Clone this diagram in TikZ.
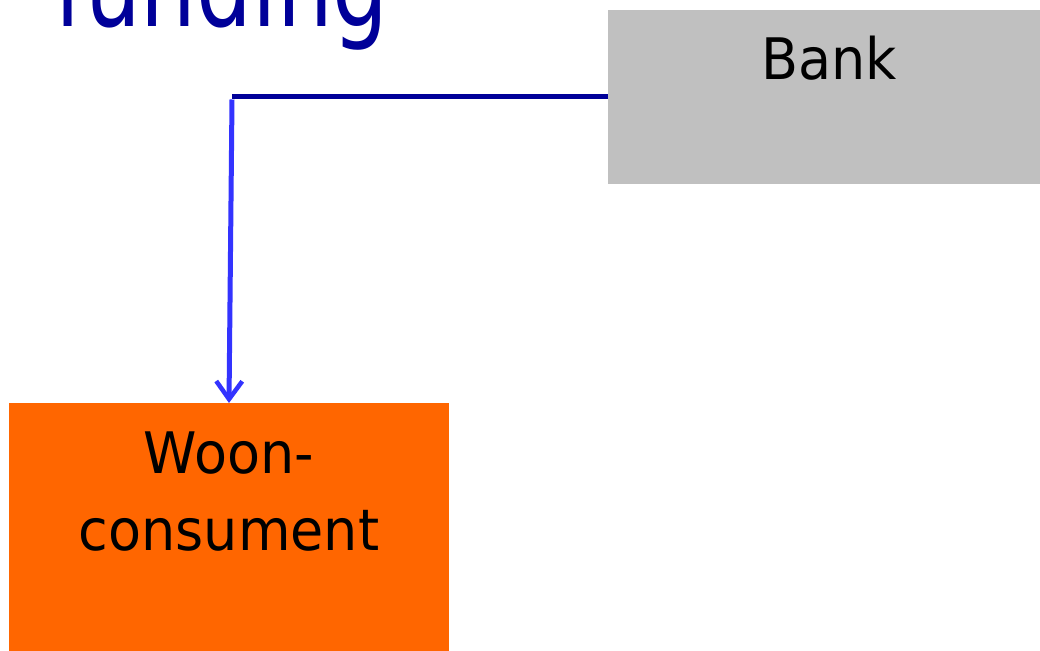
\documentclass[tikz,border=0pt]{standalone}
\usepackage{fontspec}
\setmainfont{DejaVu Sans}
\usetikzlibrary{arrows.meta}
\definecolor{bankgray}{HTML}{C0C0C0}
\definecolor{woonorange}{HTML}{FF6600}
\definecolor{darkblue}{HTML}{000099}
\definecolor{lightblue}{HTML}{3333FF}
\tikzset{
  boxnode/.style={draw=none, rectangle, inner sep=0pt, outer sep=0pt},
  boxtext/.style={inner sep=0pt, anchor=base, font=\fontsize{54}{60}\selectfont},
  flowline/.style={line width=5pt},
}
\newcommand{\vstretch}[1]{\scalebox{1}[1.06]{#1}}
\begin{document}
\begin{tikzpicture}[x=1pt,y=-1pt]
\useasboundingbox (0,0) rectangle (1040,650);
\fill[white] (0,0) rectangle (1040,650);
% title
\node[inner sep=0pt, anchor=base west, text=darkblue, font=\fontsize{88}{100}\selectfont] (title) at (54,27) {\scalebox{1}[1.3]{funding}};
% boxes
\node[boxnode, fill=bankgray, minimum width=440pt, minimum height=174pt] (bank) at (828,97) {};
\node[boxtext] (banktext) at (829,80) {\vstretch{Bank}};
\node[boxnode, fill=woonorange, minimum width=440pt, minimum height=260pt] (woon) at (229,533) {};
\node[boxtext] (woontext1) at (229,473) {\vstretch{Woon-}};
\node[boxtext] (woontext2) at (229,550) {\vstretch{consument}};
% connector
\coordinate (corner) at (232,97);
\draw[flowline, darkblue] (bank.west |- 0,97) -- (corner);
\draw[flowline, lightblue, -{Straight Barb[length=18pt,width=26pt,line width=4.5pt]}] ([yshift=-2.5pt]corner) -- (woon.north);
\end{tikzpicture}
\end{document}
